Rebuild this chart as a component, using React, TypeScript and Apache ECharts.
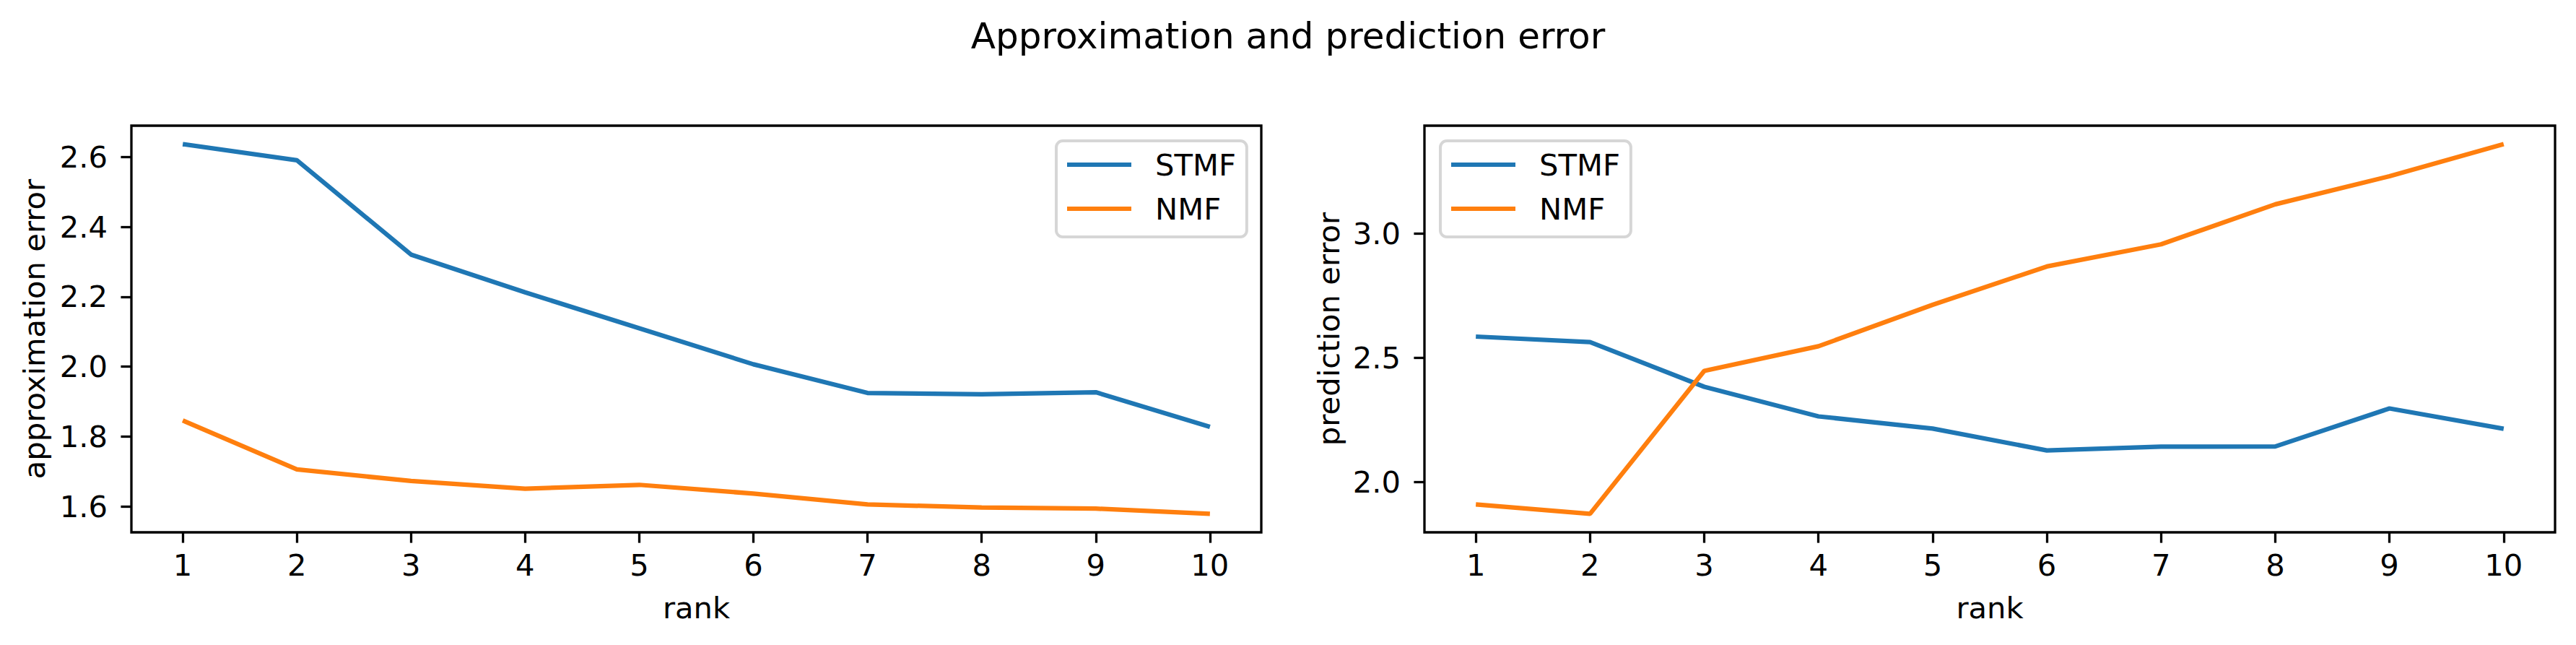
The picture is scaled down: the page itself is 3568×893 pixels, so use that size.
import React, { useEffect, useRef } from "react";
import * as echarts from "echarts";

const ranks = [1, 2, 3, 4, 5, 6, 7, 8, 9, 10];
const approxSTMF = [2.637, 2.591, 2.321, 2.213, 2.11, 2.007, 1.925, 1.921, 1.927, 1.828];
const approxNMF = [1.846, 1.706, 1.673, 1.651, 1.662, 1.637, 1.606, 1.597, 1.594, 1.579];
const predSTMF = [2.586, 2.564, 2.384, 2.265, 2.216, 2.128, 2.143, 2.144, 2.297, 2.215];
const predNMF = [1.911, 1.873, 2.448, 2.547, 2.714, 2.868, 2.957, 3.118, 3.231, 3.36];
const approxTicks = [1.6, 1.8, 2.0, 2.2, 2.4, 2.6];
const predTicks = [2.0, 2.5, 3.0];
const seriesNames = ["STMF", "NMF"];
const colors = ["#1f77b4", "#ff7f0e"];

const FONT = "DejaVu Sans";
const FS = 41.7;

function limits(arrs: number[][]) {
  const all = arrs.flat();
  const lo = Math.min(...all);
  const hi = Math.max(...all);
  const m = (hi - lo) * 0.05;
  return [lo - m, hi + m];
}

export default function App() {
  const ref = useRef<HTMLDivElement>(null);
  useEffect(() => {
    document.body.style.margin = "0";
    const chart = echarts.init(ref.current!, undefined, { renderer: "svg" });
    const xl = limits([ranks]);
    const yl1 = limits([approxSTMF, approxNMF]);
    const yl2 = limits([predSTMF, predNMF]);
    const pairs = (vals: number[]) => ranks.map((r, i) => [r, vals[i]]);

    const xAxis = (gi: number) => ({
      type: "value",
      gridIndex: gi,
      min: xl[0],
      max: xl[1],
      splitLine: { show: false },
      axisLine: { show: false },
      axisTick: {
        show: true,
        length: 14.6,
        inside: false,
        customValues: ranks,
        lineStyle: { color: "#000", width: 3.3 },
      },
      axisLabel: {
        customValues: ranks,
        margin: 24,
        color: "#000",
        fontFamily: FONT,
        fontSize: FS,
        formatter: (v: number) => String(Math.round(v)),
      },
    });
    const yAxis = (gi: number, lim: number[], ticks: number[]) => ({
      type: "value",
      gridIndex: gi,
      min: lim[0],
      max: lim[1],
      splitLine: { show: false },
      axisLine: { show: false },
      axisTick: {
        show: true,
        length: 14.6,
        inside: false,
        customValues: ticks,
        lineStyle: { color: "#000", width: 3.3 },
      },
      axisLabel: {
        customValues: ticks,
        margin: 33,
        color: "#000",
        fontFamily: FONT,
        fontSize: FS,
        formatter: (v: number) => v.toFixed(1),
      },
    });
    const legend = (left: number) => ({
      orient: "vertical",
      left,
      top: 195,
      data: seriesNames,
      icon: "rect",
      itemWidth: 89,
      itemHeight: 6,
      itemGap: 13,
      padding: [9, 15, 15, 15],
      borderColor: "#d6d6d6",
      borderWidth: 4,
      borderRadius: 9,
      backgroundColor: "rgba(255,255,255,0.8)",
      selectedMode: false,
      textStyle: {
        fontFamily: FONT,
        fontSize: FS,
        color: "#000",
        lineHeight: 48,
        padding: [0, 0, 0, 28],
      },
    });
    const line = (name: string, vals: number[], gi: number, ci: number) => ({
      type: "line",
      name,
      xAxisIndex: gi,
      yAxisIndex: gi,
      data: pairs(vals),
      showSymbol: false,
      symbol: "none",
      color: colors[ci],
      lineStyle: { color: colors[ci], width: 6.25 },
      itemStyle: { color: colors[ci] },
    });
    const text = (t: string, x: number, y: number, rot: number, size: number) => ({
      type: "text",
      x,
      y,
      rotation: rot,
      style: {
        text: t,
        fill: "#000",
        font: `${size}px "${FONT}"`,
        textAlign: "center",
        textVerticalAlign: "middle",
      },
    });

    chart.setOption({
      animation: false,
      backgroundColor: "#fff",
      grid: [
        { left: 182, top: 174, width: 1565, height: 563, show: true, borderColor: "#000", borderWidth: 3.3, backgroundColor: "transparent" },
        { left: 1973, top: 174, width: 1566, height: 563, show: true, borderColor: "#000", borderWidth: 3.3, backgroundColor: "transparent" },
      ],
      xAxis: [xAxis(0), xAxis(1)],
      yAxis: [yAxis(0, yl1, approxTicks), yAxis(1, yl2, predTicks)],
      legend: [legend(1463), legend(1995)],
      series: [
        line("STMF", approxSTMF, 0, 0),
        line("NMF", approxNMF, 0, 1),
        line("STMF", predSTMF, 1, 0),
        line("NMF", predNMF, 1, 1),
      ],
      graphic: [
        text("Approximation and prediction error", 1784, 50, 0, 50),
        text("rank", 964.5, 841, 0, FS),
        text("rank", 2756, 841, 0, FS),
        text("approximation error", 47, 455.5, Math.PI / 2, FS),
        text("prediction error", 1840, 455.5, Math.PI / 2, FS),
      ],
    });
    return () => chart.dispose();
  }, []);
  return <div ref={ref} style={{ width: 3568, height: 893 }} />;
}
